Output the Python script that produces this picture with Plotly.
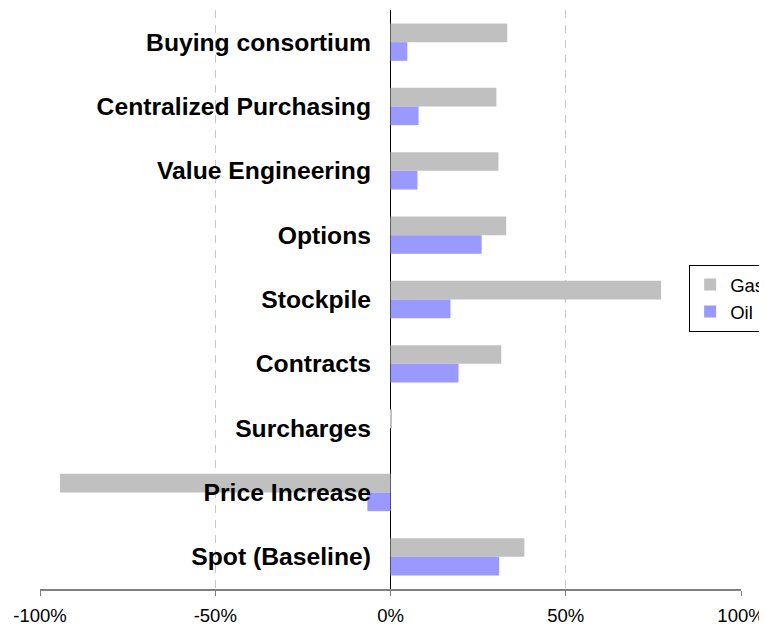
import plotly.graph_objects as go

categories = ["Buying consortium", "Centralized Purchasing", "Value Engineering", "Options",
              "Stockpile", "Contracts", "Surcharges", "Price Increase", "Spot (Baseline)"]
gas = [0.333, 0.302, 0.308, 0.330, 0.772, 0.316, 0.002, -0.943, 0.382]
oil = [0.048, 0.080, 0.077, 0.260, 0.171, 0.194, 0.0, -0.066, 0.310]
x_ticks = [-1.0, -0.5, 0.0, 0.5, 1.0]
x_tick_labels = ["-100%", "-50%", "0%", "50%", "100%"]

FONT = "Liberation Sans, Arial, sans-serif"

fig = go.Figure()
fig.add_trace(go.Bar(name="Gas", y=categories, x=gas, orientation="h",
                     marker=dict(color="#C0C0C0", line=dict(width=0))))
fig.add_trace(go.Bar(name="Oil", y=categories, x=oil, orientation="h",
                     marker=dict(color="#9999FF", line=dict(width=0))))

fig.update_layout(
    width=759, height=618,
    margin=dict(l=32, r=26, t=2, b=37, autoexpand=False),
    paper_bgcolor="white", plot_bgcolor="white",
    barmode="group", bargap=0.42, bargroupgap=0,
    font=dict(family=FONT, color="black", size=18),
    showlegend=True,
    legend=dict(x=0.926, y=0.5596, xanchor="left", yanchor="top",
                bordercolor="black", borderwidth=1, bgcolor="white",
                font=dict(family=FONT, size=18.5, color="black"),
                itemwidth=30, tracegroupgap=0),
    xaxis=dict(range=[-1, 1], tickvals=x_ticks, ticktext=x_tick_labels,
               showgrid=True, gridcolor="#C8C8C8", gridwidth=1, griddash="8px,7px",
               zeroline=True, zerolinecolor="black", zerolinewidth=1,
               showline=True, linecolor="#808080", linewidth=1.5,
               ticks="outside", ticklen=5, tickcolor="#808080",
               ticklabelstandoff=4,
               tickfont=dict(family=FONT, size=18.5, color="black"),
               fixedrange=True),
    yaxis=dict(type="category", autorange="reversed", anchor="free", position=0.5007,
               showgrid=False, zeroline=False, showline=False, ticks="",
               ticklabelstandoff=20,
               tickfont=dict(family=FONT, size=24.7, color="black", weight="bold"),
               fixedrange=True),
)

fig.write_html("out.html")
